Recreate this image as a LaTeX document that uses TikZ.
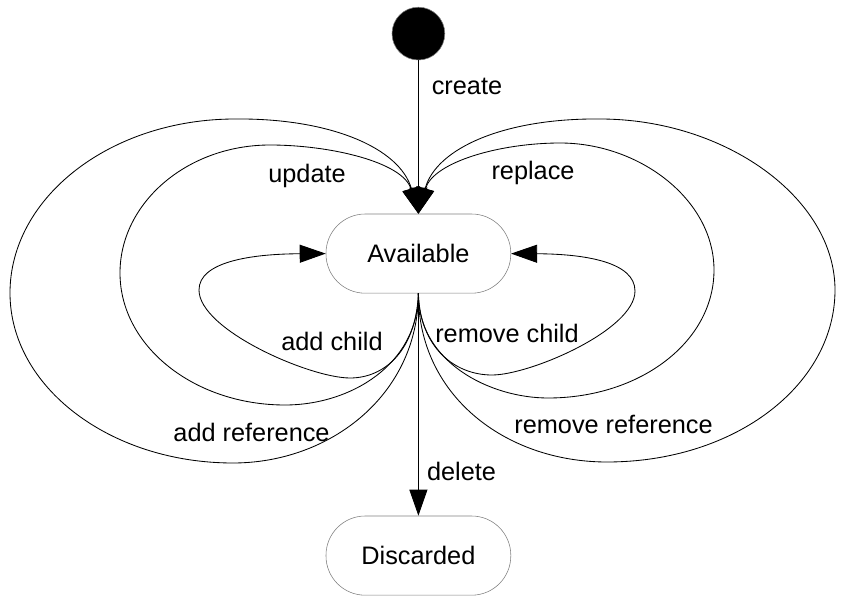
\documentclass[tikz,border=0pt]{standalone}
\usepackage{fontspec}
\setmainfont{Liberation Sans}
\usetikzlibrary{arrows.meta}
\definecolor{sqsqsq}{rgb}{0.5,0.5,0.5}
\definecolor{qqqqqq}{rgb}{0,0,0}
\begin{document}
\begin{tikzpicture}[line cap=round,line join=round,>={Triangle[length=6.5mm,width=4.5mm]},x=1.0cm,y=1.0cm,
  font=\fontsize{18}{22}\selectfont,
  state/.style={draw=sqsqsq,fill=white,rounded corners=0.98cm,minimum width=4.62cm,minimum height=1.98cm,inner sep=0pt},
  trans/.style={color=qqqqqq,line width=0.6pt,->},
  lbl/.style={anchor=base,inner sep=0pt}]
\clip(0,0) rectangle (21.15,15.2);
\node[circle,draw=sqsqsq,fill=qqqqqq,minimum size=1.32cm,inner sep=0pt] (init) at (10.46,14.36) {};
\node[state] (avail) at (10.46,8.86) {Available};
\node[state] (disc) at (10.46,1.31) {Discarded};
\draw [trans] (init) -- (avail);
\draw [trans] (avail) -- (disc);
\draw [trans] (avail.south) .. controls (10.4,6.45) and (9.625,5.75) .. (8.75,5.75) .. controls (7.75,5.75) and (4.975,6.95) .. (4.975,7.95) .. controls (4.975,8.65) and (6.25,8.85) .. (avail.west);
\draw [trans] (avail.south) .. controls (10.45,6.075) and (8.75,5.075) .. (7.125,5.075) .. controls (4.85,5.075) and (3.0,6.55) .. (3.0,8.375) .. controls (3.0,10.125) and (4.675,11.575) .. (6.75,11.575) .. controls (8.25,11.575) and (10.075,11.15) .. (avail.north);
\draw [trans] (avail.south) .. controls (10.45,5.325) and (8.25,3.625) .. (5.825,3.625) .. controls (2.75,3.625) and (0.25,5.525) .. (0.25,7.875) .. controls (0.25,10.275) and (2.775,12.225) .. (5.875,12.225) .. controls (8.25,12.25) and (10.0,11.5) .. (avail.north);
\draw [trans] (avail.south) .. controls (10.5,6.5) and (11.375,5.825) .. (12.3,5.825) .. controls (13.25,5.825) and (15.875,6.95) .. (15.875,7.925) .. controls (15.875,8.65) and (14.625,8.85) .. (avail.east);
\draw [trans] (avail.south) .. controls (10.45,6.15) and (12.25,5.25) .. (13.7,5.25) .. controls (16.0,5.25) and (17.85,6.65) .. (17.85,8.45) .. controls (17.85,10.2) and (16.0,11.625) .. (14.0,11.625) .. controls (12.5,11.625) and (10.825,11.15) .. (avail.north);
\draw [trans] (avail.south) .. controls (10.45,5.325) and (12.625,3.65) .. (15.175,3.65) .. controls (18.375,3.65) and (20.875,5.575) .. (20.875,7.95) .. controls (20.875,10.25) and (18.125,12.225) .. (15.0,12.225) .. controls (12.625,12.25) and (10.9,11.5) .. (avail.north);
\node[lbl] (create) at (11.675,12.825) {create};
\node[lbl] (update) at (7.675,10.633) {update};
\node[lbl] (replace) at (13.325,10.718) {replace};
\node[lbl] (addchild) at (8.3,6.433) {add child};
\node[lbl] (remchild) at (12.675,6.643) {remove child};
\node[lbl] (addref) at (6.288,4.158) {add reference};
\node[lbl] (remref) at (15.338,4.368) {remove reference};
\node[lbl] (delete) at (11.538,3.183) {delete};
\end{tikzpicture}
\end{document}
